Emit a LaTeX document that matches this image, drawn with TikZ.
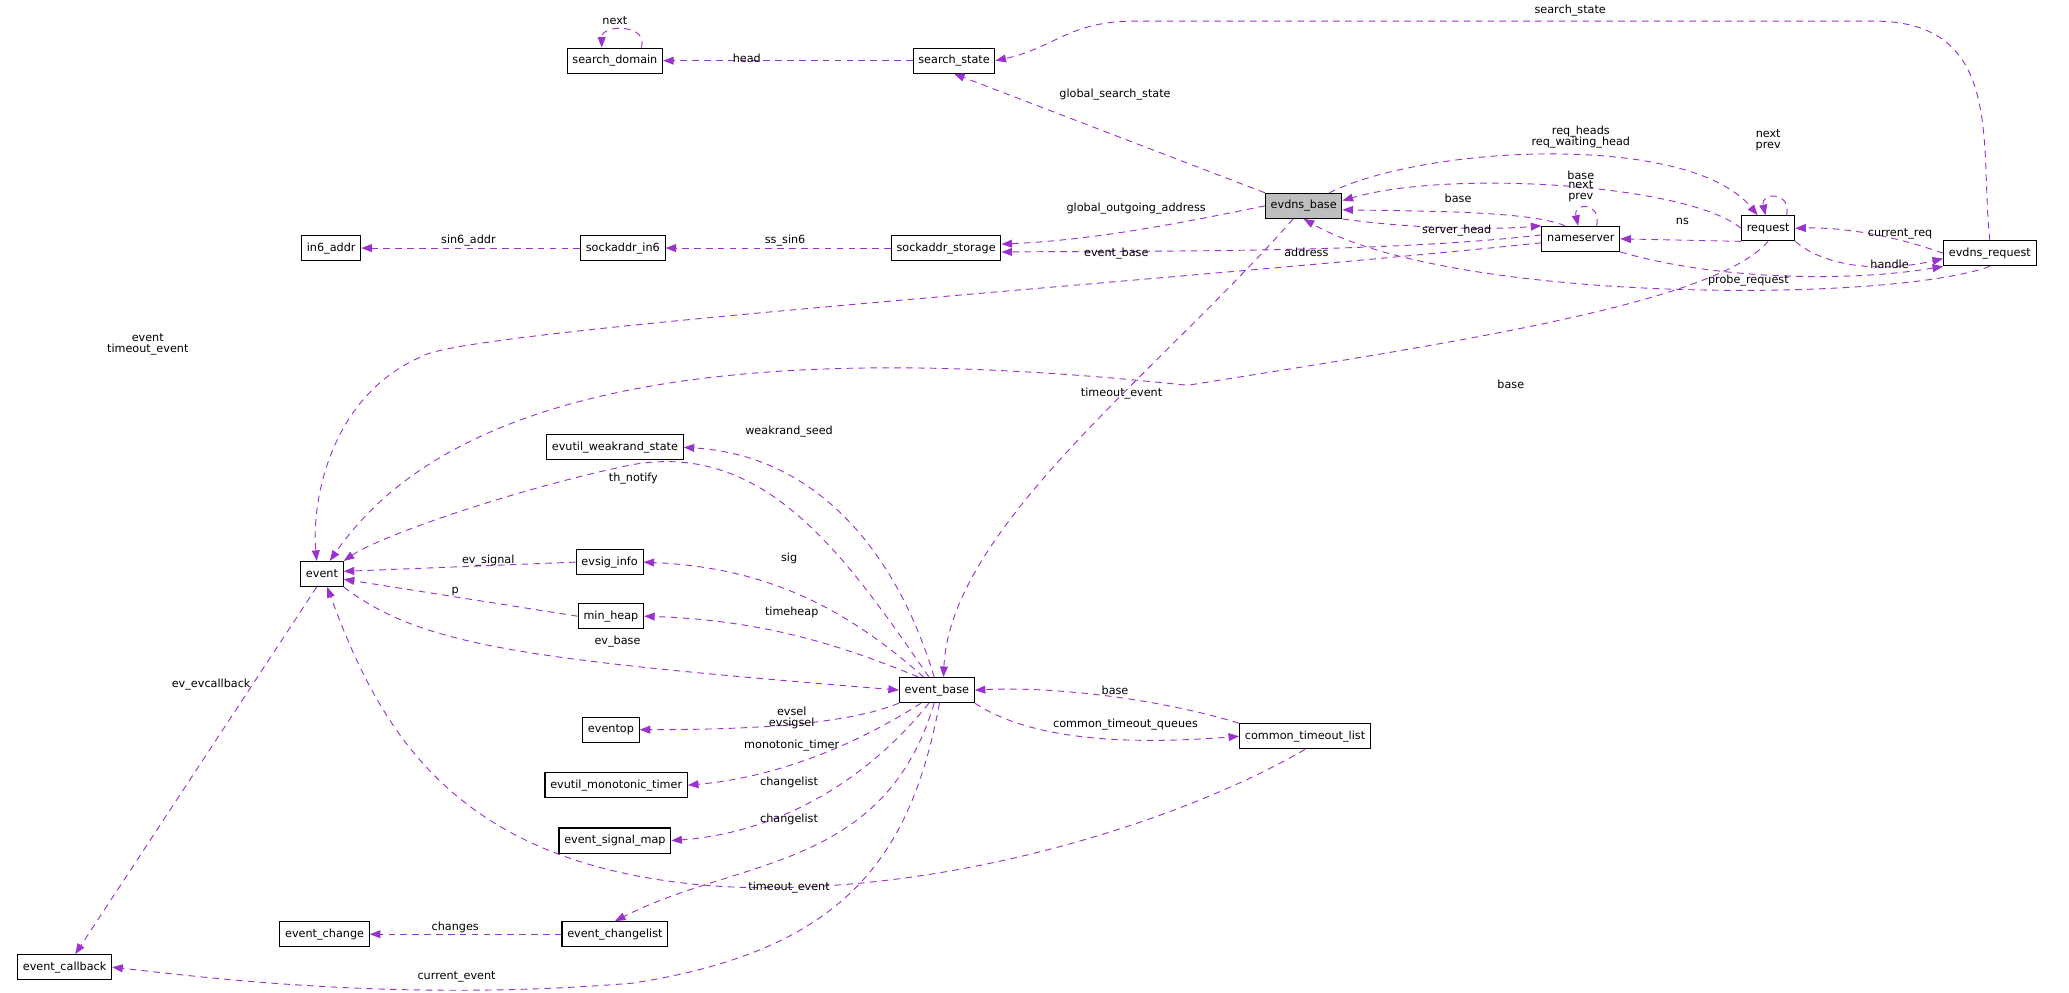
\documentclass[tikz,border=0pt]{standalone}
\usepackage{fontspec}
\setmainfont{DejaVu Sans}
\usetikzlibrary{arrows.meta}
\definecolor{ec}{HTML}{9A32CD}
\begin{document}
\begin{tikzpicture}[x=1pt,y=-1pt,
  box/.style={draw,fill=white,line width=0.8pt,minimum height=19pt,inner xsep=4pt,inner ysep=1pt,font=\fontsize{8.5}{9}\selectfont},
  lb/.style={font=\fontsize{8.5}{9.5}\selectfont,align=center,inner sep=1pt},
  e/.style={draw=ec,dash pattern=on 5pt off 4pt,line width=0.7pt,-{Triangle[length=8pt,width=6pt,fill=ec]}}]
\useasboundingbox (0,0) rectangle (1568,752);
% nodes
\node[box] (sd) at (466,46) {search\_domain};
\node[box] (ss) at (723,46) {search\_state};
\node[box,fill={rgb,255:red,191;green,191;blue,191}] (eb) at (988,156) {evdns\_base};
\node[box] (rq) at (1340,173) {request};
\node[box] (ns) at (1198,181) {nameserver};
\node[box] (er) at (1508,192) {evdns\_request};
\node[box] (sst) at (717,188) {sockaddr\_storage};
\node[box] (si6) at (472,188) {sockaddr\_in6};
\node[box] (i6) at (251,188) {in6\_addr};
\node[box] (ews) at (466,339) {evutil\_weakrand\_state};
\node[box] (ev) at (244,435) {event};
\node[box] (esi) at (462,426) {evsig\_info};
\node[box] (mh) at (463,467) {min\_heap};
\node[box] (base) at (710,523) {event\_base};
\node[box] (eop) at (463,553) {eventop};
\node[box] (emt) at (467,595) {evutil\_monotonic\_timer};
\node[box] (esm) at (466,637) {event\_signal\_map};
\node[box] (ech) at (246,708) {event\_change};
\node[box] (ecl) at (466,708) {event\_changelist};
\node[box] (ecb) at (49,733) {event\_callback};
\node[box] (ctl) at (989,558) {common\_timeout\_list};
% edges
\draw[e] ([xshift=20pt]sd.north) .. controls +(6,-18) and +(0,-18) .. ([xshift=-10pt]sd.north);
\node[lb] (l1) at (466,16) {next};
\draw[e] (ss) -- (sd); \node[lb] (l2) at (566,44) {head};
\draw[e] (eb.north west) -- (ss.south); \node[lb] (l3) at (845,72) {global\_search\_state};
\draw[e] (er.north) .. controls (1500,110) and (1520,16) .. (1420,16) -- (860,16) .. controls (810,16) and (800,36) .. (ss.east);
\node[lb] (l4) at (1190,8) {search\_state};
\draw[e] (eb.west) .. controls (900,168) and (830,182) .. ([yshift=3pt]sst.east);
\node[lb] (l5) at (861,158) {global\_outgoing\_address};
\draw[e] ([yshift=3pt]ns.west) .. controls (1050,192) and (860,190) .. ([yshift=-3pt]sst.east);
\node[lb] (l6) at (990,191) {address};
\draw[e] (sst) -- (si6); \node[lb] (l7) at (595,182) {ss\_sin6};
\draw[e] (si6) -- (i6); \node[lb] (l8) at (355,182) {sin6\_addr};
\draw[e] ([xshift=-10pt]eb.north east) .. controls (1080,110) and (1280,100) .. ([xshift=-8pt]rq.north);
\node[lb] (l9) at (1198,104) {req\_heads\\[-1pt]req\_waiting\_head};
\draw[e] (rq.west) .. controls (1280,140) and (1100,128) .. ([yshift=4pt]eb.east);
\node[lb] (l10) at (1198,133) {base};
\draw[e] ([xshift=-12pt]ns.north) .. controls (1160,160) and (1080,160) .. ([yshift=-3pt]eb.east);
\node[lb] (l11) at (1105,150) {base};
\draw[e] (eb.south east) .. controls (1060,172) and (1120,175) .. (ns.north west);
\node[lb] (l12) at (1104,175) {server\_head};
\draw[e] ([xshift=12pt]ns.north) .. controls +(4,-18) and +(-4,-18) .. ([xshift=-2pt]ns.north);
\node[lb] (l13) at (1198,145) {next\\[-1pt]prev};
\draw[e] ([xshift=14pt]rq.north) .. controls +(4,-18) and +(-4,-18) .. ([xshift=-2pt]rq.north);
\node[lb] (l14) at (1340,106) {next\\[-1pt]prev};
\draw[e] (rq.south west) -- (ns.east); \node[lb] (l15) at (1275,168) {ns};
\draw[e] (er.west) .. controls (1440,180) and (1400,172) .. (rq.east);
\node[lb] (l16) at (1440,177) {current\_req};
\draw[e] (rq.south east) .. controls (1380,200) and (1420,208) .. ([yshift=-4pt]er.west);
\node[lb] (l17) at (1432,200) {handle};
\draw[e] (ns.south east) .. controls (1300,212) and (1400,214) .. (er.south west);
\node[lb] (l18) at (1325,213) {probe\_request};
\draw[e] (er.south) .. controls (1430,230) and (1100,230) .. (eb.south);
\node[lb] (l19) at (1145,291) {base};
\draw[e] ([xshift=-8pt]eb.south) .. controls (880,280) and (720,400) .. ([xshift=5pt]base.north);
\node[lb] (l20) at (846,192) {event\_base};
\draw[e] ([yshift=-3pt]ns.west) .. controls (900,212) and (350,250) .. (320,270) .. controls (250,300) and (236,380) .. ([xshift=-4pt]ev.north);
\node[lb] (l21) at (112,261) {event\\[-1pt]timeout\_event};
\draw[e] (rq.south) .. controls (1300,230) and (1100,260) .. (900,292) .. controls (600,260) and (350,280) .. ([xshift=6pt]ev.north);
\node[lb] (l22) at (850,298) {timeout\_event};
\draw[e] ([xshift=-2pt]base.north) .. controls (680,420) and (620,345) .. (ews.east);
\node[lb] (l23) at (598,327) {weakrand\_seed};
\draw[e] ([xshift=-6pt]base.north) .. controls (640,420) and (580,335) .. (480,352) .. controls (400,368) and (290,405) .. (ev.north east);
\node[lb] (l24) at (480,363) {th\_notify};
\draw[e] ([xshift=-10pt]base.north) .. controls (640,460) and (580,430) .. (esi.east);
\node[lb] (l25) at (598,423) {sig};
\draw[e] ([xshift=-14pt]base.north) .. controls (640,490) and (580,470) .. (mh.east);
\node[lb] (l26) at (600,464) {timeheap};
\draw[e] (esi.west) -- ([yshift=2pt]ev.east); \node[lb] (l27) at (370,425) {ev\_signal};
\draw[e] (mh.west) -- ([yshift=-4pt]ev.east); \node[lb] (l28) at (345,448) {p};
\draw[e] (ev.south east) .. controls (320,490) and (400,500) .. (base.west);
\node[lb] (l29) at (468,486) {ev\_base};
\draw[e] (base.south west) .. controls (640,550) and (560,553) .. (eop.east);
\node[lb] (l30) at (600,544) {evsel\\[-1pt]evsigsel};
\draw[e] ([xshift=-12pt]base.south) .. controls (640,570) and (580,590) .. (emt.east);
\node[lb] (l31) at (600,565) {monotonic\_timer};
\draw[e] ([xshift=-6pt]base.south) .. controls (650,600) and (580,632) .. (esm.east);
\node[lb] (l32) at (598,593) {changelist};
\node[lb] (l32b) at (598,593) {};
\draw[e] ([xshift=-2pt]base.south) .. controls (670,660) and (560,650) .. (ecl.north);
\node[lb] (l33) at (598,621) {changelist};
\draw[e] (ecl) -- (ech); \node[lb] (l34) at (345,703) {changes};
\draw[e] ([xshift=2pt]base.south) .. controls (690,650) and (640,720) .. (480,745) .. controls (300,760) and (150,740) .. (ecb.east);
\node[lb] (l35) at (346,740) {current\_event};
\draw[e] ([xshift=-4pt]ev.south) -- ([xshift=8pt]ecb.north);
\node[lb] (l36) at (160,519) {ev\_evcallback};
\draw[e] (ctl.north west) .. controls (880,530) and (800,520) .. (base.east);
\node[lb] (l37) at (845,523) {base};
\draw[e] (base.south east) .. controls (780,560) and (850,565) .. (ctl.west);
\node[lb] (l38) at (853,549) {common\_timeout\_queues};
\draw[e] (ctl.south) .. controls (900,620) and (720,680) .. (550,672) .. controls (350,660) and (290,560) .. ([xshift=4pt]ev.south);
\node[lb] (l39) at (598,673) {timeout\_event};
\end{tikzpicture}
\end{document}
